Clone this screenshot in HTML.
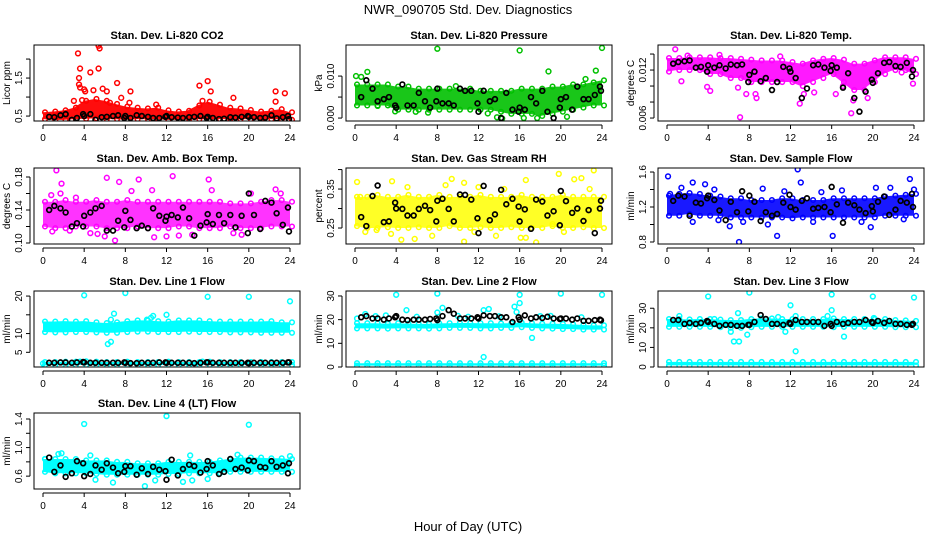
<!DOCTYPE html>
<html><head><meta charset="utf-8"><style>
body{margin:0;background:#fff;}
svg{display:block;font-family:"Liberation Sans",Arial,sans-serif;}
</style></head><body>
<svg id="chart" width="936" height="540" viewBox="0 0 936 540" xmlns="http://www.w3.org/2000/svg">
<rect width="936" height="540" fill="#fff"/>
<text x="468" y="14" font-size="13" text-anchor="middle">NWR_090705  Std. Dev. Diagnostics</text>
<text x="468" y="531" font-size="13" text-anchor="middle">Hour of Day (UTC)</text>
</svg>
<script>
const hours=[0,1,2,3,4,5,6,7,8,9,10,11,12,13,14,15,16,17,18,19,20,21,22,23,24];
const blackX=[0.6,1.1,1.7,2.2,2.8,3.3,3.9,4.0,4.6,5.1,5.7,6.2,6.8,7.3,7.9,8.0,8.5,9.1,9.6,10.2,10.7,11.3,11.9,12.0,12.5,13.1,13.6,14.2,14.7,15.3,15.9,16.0,16.5,17.1,17.6,18.2,18.7,19.3,19.9,20.0,20.5,21.1,21.6,22.2,22.7,23.3,23.8,23.9];

// Panel 1 CO2
const co2Low=[0.42,0.40,0.40,0.42,0.43,0.44,0.42,0.42,0.40,0.42,0.42,0.42,0.40,0.40,0.42,0.42,0.42,0.42,0.42,0.42,0.42,0.40,0.42,0.42,0.40];
const co2High=[0.60,0.62,0.65,0.72,0.90,0.95,0.90,0.82,0.75,0.72,0.70,0.72,0.65,0.62,0.64,0.78,0.88,0.80,0.72,0.70,0.66,0.62,0.64,0.68,0.60];
const co2Black=[0.48,0.47,0.52,0.55,0.40,0.45,0.55,0.50,0.55,0.40,0.47,0.48,0.50,0.52,0.45,0.50,0.45,0.52,0.50,0.48,0.45,0.45,0.48,0.50,0.47,0.46,0.45,0.47,0.48,0.50,0.45,0.48,0.45,0.42,0.43,0.47,0.46,0.48,0.50,0.48,0.47,0.45,0.46,0.52,0.44,0.47,0.50,0.42];
const co2Out=[[3.4,2.15],[3.6,1.75],[3.5,1.5],[3.5,1.33],[3.6,1.25],[5.4,2.35],[5.5,2.28],[5.4,1.75],[4.6,1.65],[7.2,1.37],[5.8,1.22],[6.2,1.15],[4.1,1.15],[4.0,1.2],[8.5,1.15],[7.6,0.98],[3.0,0.9],[3.8,0.92],[15.2,1.3],[16.0,1.42],[16.3,1.15],[18.5,0.98],[22.6,1.15],[22.6,0.88],[23.5,1.1],[4.9,1.18],[11,0.8],[15.5,0.9],[6.5,0.85],[8.4,0.85]];
// Panel 2 Pressure
const prLow=[0.003,0.003,0.003,0.003,0.002,0.002,0.002,0.002,0.002,0.002,0.002,0.002,0.002,0.002,0.0015,0.001,0.001,0.001,0.0005,0.001,0.0015,0.002,0.0025,0.003,0.003];
const prHigh=[0.008,0.008,0.008,0.008,0.0075,0.0075,0.007,0.007,0.007,0.007,0.007,0.007,0.0065,0.0065,0.0065,0.0065,0.007,0.007,0.007,0.0075,0.0075,0.008,0.008,0.0085,0.009];
const prBlack=[0.005,0.009,0.007,0.004,0.0045,0.005,0.003,0.0025,0.008,0.003,0.003,0.006,0.004,0.0025,0.004,0.007,0.0035,0.0035,0.003,0.007,0.0065,0.0065,0.0035,0.0015,0.0065,0.004,0.0045,0,0.006,0.002,0.0015,0.0025,0.002,0.005,0.0035,0.0065,0.0015,0,0.0025,0.0045,0.005,0.002,0.0075,0.0045,0.0045,0.0055,0.0075,0.0065];
const prOut=[[8,0.0165],[16,0.0161],[24,0.0167],[18.8,0.0111],[1.2,0.011],[23.4,0.0113],[0.1,0.010],[0.6,0.0098],[14.3,-0.0001],[16.4,0],[17.7,0],[13.8,0.0002],[7.1,0.0013],[5.9,0.0015],[9.8,0.0076],[20.6,0.0003],[3.9,0.0016],[2.2,0.0029],[22.4,0.0093],[12.9,0.0011]];
// Panel 3 Li-820 temp
const ltLow=[0.0118,0.012,0.012,0.012,0.0115,0.0115,0.011,0.011,0.0105,0.0105,0.0105,0.0105,0.0105,0.010,0.0105,0.011,0.0115,0.0105,0.0095,0.0095,0.0105,0.0115,0.012,0.012,0.0115];
const ltHigh=[0.0135,0.0135,0.0136,0.0136,0.0136,0.0135,0.0135,0.0134,0.0133,0.0132,0.0132,0.0132,0.0130,0.0128,0.0132,0.0134,0.0135,0.0133,0.0128,0.0128,0.0132,0.0136,0.0136,0.0136,0.0134];
const ltBlack=[0.0128,0.0130,0.0131,0.0132,0.0123,0.0124,0.0118,0.0126,0.0123,0.0126,0.0122,0.0127,0.0126,0.0127,0.0105,0.0114,0.0118,0.0106,0.0110,0.0095,0.0105,0.0124,0.0122,0.0118,0.0110,0.0085,0.0097,0.0126,0.0127,0.0123,0.0119,0.0126,0.0123,0.0098,0.0116,0.0085,0.0068,0.0093,0.0108,0.0104,0.0116,0.0129,0.0130,0.0125,0.0124,0.0129,0.0112,0.0120];
const ltOut=[[0.8,0.0146],[7.1,0.0061],[17.9,0.0066],[12.9,0.0078],[1.4,0.0106],[3.9,0.0099],[4.2,0.0094],[7.7,0.0090],[8.6,0.0090],[8.7,0.0085],[13.3,0.0090],[14.3,0.0092],[19.5,0.0085],[23.9,0.0103],[2.0,0.0138],[5.1,0.0139],[11.0,0.0137],[22.8,0.0117],[6.9,0.0098],[16.4,0.0090],[18.1,0.0082],[17.1,0.0100]];
// Panel 4 Amb box temp
const abLow=[0.120,0.118,0.118,0.120,0.120,0.120,0.118,0.118,0.118,0.120,0.118,0.118,0.118,0.120,0.120,0.118,0.118,0.118,0.120,0.118,0.118,0.118,0.120,0.120,0.120];
const abHigh=[0.150,0.150,0.152,0.150,0.150,0.152,0.150,0.150,0.152,0.150,0.150,0.150,0.150,0.150,0.150,0.150,0.150,0.150,0.148,0.148,0.148,0.150,0.152,0.152,0.150];
const abBlack=[0.140,0.145,0.142,0.137,0.120,0.124,0.120,0.133,0.137,0.142,0.145,0.115,0.115,0.127,0.119,0.139,0.128,0.118,0.121,0.118,0.142,0.133,0.127,0.132,0.134,0.131,0.143,0.130,0.109,0.121,0.125,0.135,0.123,0.134,0.124,0.134,0.119,0.133,0.112,0.160,0.134,0.117,0.151,0.149,0.136,0.122,0.143,0.114];
const abOut=[[1.3,0.188],[6.2,0.179],[7.4,0.174],[9.3,0.177],[12.6,0.181],[16.1,0.177],[1.8,0.172],[7.0,0.103],[10.8,0.107],[14.5,0.110],[2.6,0.115],[4.6,0.112],[5.3,0.111],[0.9,0.114],[6.0,0.108],[12.0,0.108],[13.2,0.109],[18.5,0.112],[19.3,0.110],[22.6,0.165],[8.6,0.163],[10.6,0.164],[16.4,0.164],[0.8,0.158],[3.2,0.155],[1.7,0.16],[23.1,0.16],[20.2,0.16]];
// Panel 5 RH
const rhLow=[0.255,0.25,0.25,0.252,0.25,0.25,0.252,0.25,0.25,0.255,0.25,0.25,0.252,0.25,0.25,0.252,0.25,0.25,0.25,0.255,0.25,0.25,0.252,0.25,0.25];
const rhHigh=[0.33,0.33,0.335,0.33,0.33,0.335,0.33,0.33,0.335,0.33,0.33,0.33,0.335,0.33,0.33,0.33,0.335,0.33,0.33,0.33,0.335,0.33,0.33,0.33,0.33];
const rhBlack=[0.278,0.255,0.332,0.359,0.265,0.267,0.315,0.300,0.299,0.282,0.282,0.299,0.307,0.296,0.267,0.320,0.325,0.299,0.267,0.336,0.335,0.323,0.275,0.237,0.358,0.270,0.285,0.348,0.311,0.325,0.305,0.267,0.298,0.248,0.323,0.318,0.282,0.293,0.257,0.345,0.319,0.289,0.300,0.268,0.296,0.237,0.300,0.320];
const rhOut=[[0.2,0.368],[3.6,0.370],[9.4,0.376],[10.6,0.366],[16.6,0.373],[19.8,0.389],[21.3,0.375],[22.0,0.378],[23.2,0.398],[10.6,0.215],[17.6,0.213],[16.1,0.225],[16.6,0.225],[4.5,0.22],[5.8,0.222],[7.5,0.23],[2.1,0.245],[13.7,0.23],[20.3,0.24],[1.0,0.24],[8.8,0.36],[12.0,0.355],[14.5,0.35],[22.8,0.35],[0.5,0.33],[5.1,0.355],[3.5,0.235],[11.6,0.24],[19.2,0.26]];
// Panel 6 Sample flow
const sfLow=[1.10,1.10,1.12,1.10,1.10,1.10,1.08,1.08,1.08,1.08,1.08,1.08,1.07,1.08,1.08,1.08,1.08,1.08,1.08,1.08,1.08,1.10,1.10,1.10,1.10];
const sfHigh=[1.33,1.35,1.36,1.35,1.33,1.32,1.30,1.30,1.28,1.28,1.28,1.30,1.30,1.28,1.28,1.28,1.30,1.30,1.30,1.30,1.30,1.32,1.33,1.34,1.35];
const sfBlack=[1.27,1.33,1.32,1.10,1.25,1.24,1.30,1.33,1.28,1.16,1.05,1.26,1.14,1.38,1.15,1.33,1.26,1.04,1.14,1.10,1.12,1.25,1.34,1.20,1.17,1.27,1.30,1.18,1.19,1.20,1.14,1.43,1.23,1.02,1.25,1.22,1.17,1.13,1.21,1.15,1.26,1.32,1.11,1.17,1.27,1.25,1.35,1.20];
const sfOut=[[0.1,1.55],[12.7,1.63],[13.0,1.48],[2.5,1.48],[3.7,1.46],[23.6,1.52],[7.0,0.8],[10.7,0.87],[16.1,0.87],[6.1,0.98],[19.8,0.97],[9.8,1.0],[1.4,1.42],[9.3,1.41],[20.3,1.42],[21.7,1.42],[17.0,1.39],[11.4,1.38],[4.6,1.4],[15.0,1.37],[2.5,1.03],[5.0,1.05],[7.4,1.03],[14.2,1.03],[18.9,1.03],[23.0,1.06],[0.3,1.35],[24,1.4]];
// Panel 7 Line 1
const l1Low=[10.4,10.3,10.3,10.4,10.4,10.3,10.2,10.2,10.4,10.5,10.5,10.4,10.4,10.4,10.5,10.4,10.4,10.4,10.3,10.3,10.3,10.2,10.2,10.2,10.2];
const l1High=[13.2,13.2,13.3,13.2,13.3,13.0,12.8,13.0,13.3,13.5,13.5,13.3,13.2,13.5,13.5,13.5,13.3,13.2,13.2,13.2,13.2,13.2,13.3,13.0,13.0];
const l1LowB=[1.6,1.6,1.6,1.6,1.6,1.6,1.6,1.6,1.6,1.6,1.6,1.6,1.6,1.6,1.6,1.6,1.6,1.6,1.6,1.6,1.6,1.6,1.6,1.6,1.6];
const l1HighB=[2.4,2.4,2.5,2.5,2.6,2.5,2.4,2.4,2.5,2.4,2.4,2.4,2.5,2.4,2.4,2.4,2.5,2.4,2.4,2.4,2.4,2.4,2.4,2.4,2.4];
const l1Black=[2.2,2.2,2.3,2.3,2.2,2.3,2.4,2.3,2.2,2.2,2.2,2.2,2.2,2.2,2.3,2.2,2.1,2.1,2.2,2.2,2.2,2.3,2.3,2.2,2.2,2.2,2.2,2.2,2.1,2.2,2.3,2.3,2.2,2.2,2.2,2.2,2.2,2.2,2.2,2.1,2.2,2.2,2.2,2.2,2.2,2.2,2.3,2.3];
const l1Out=[[4,20.2],[8,20.8],[16,19.8],[20,19.8],[24,18.6],[6.9,15.3],[12,15.0],[10.7,14.7],[10.5,14.2],[6.6,13.7],[10.1,13.7],[6.3,7.2],[6.6,7.8],[0,2.0],[3.6,2.5],[15.5,2.5]];
// Panel 8 Line 2
const l2Low=[16.3,16.3,16.3,16.2,16.3,16.3,16.3,16.2,16.3,16.5,16.5,16.5,16.3,16.3,16.5,16.5,16.8,16.5,16.3,16.2,16.0,16.0,15.8,15.8,15.8];
const l2High=[18.5,18.5,18.5,18.3,18.5,18.3,18.2,18.2,18.4,18.5,18.6,18.6,18.5,18.5,18.4,18.5,18.8,18.5,18.3,18.3,18.2,18.0,17.8,17.6,17.6];
const l2LowB=[0.6,0.6,0.6,0.6,0.6,0.6,0.6,0.6,0.6,0.6,0.6,0.6,0.6,0.6,0.6,0.6,0.6,0.6,0.6,0.6,0.6,0.6,0.6,0.6,0.6];
const l2HighB=[1.6,1.6,1.6,1.6,1.6,1.6,1.6,1.6,1.6,1.6,1.6,1.6,1.6,1.6,1.6,1.6,1.6,1.6,1.6,1.6,1.6,1.6,1.6,1.6,1.6];
const l2Black=[21,21.5,20.5,20.5,20,20.5,21,21.5,20,19.8,20,20,20,20.3,20.5,19.8,21.5,24,22.5,20.5,20.5,20.5,21,20.5,21.8,21.5,21.5,21,21,19,21,20,21.8,20.5,21,20.7,21.2,20.5,20.3,20.5,20.5,20,20.5,19.5,19.5,19.8,20,19.7];
const l2Out=[[4,30.5],[8,31],[16,30.5],[20,31],[24,30.5],[5,24],[8.5,25],[12.5,24],[12.5,4.2],[16,27],[17.2,12.3],[15.5,25.5],[8,23],[1,22.4],[15.7,23.2],[13,24.5],[2,21.5],[3,21.8],[6,21.2],[10,21.6],[14,21.4],[18,21.5],[22,21.0],[0.2,20.5],[11,21.2],[19,21.6]];
// Panel 9 Line 3
const l3Low=[20.5,20.5,20.5,20.5,20.5,20.3,20.0,20.0,20.3,20.5,20.5,20.5,20.5,20.5,20.5,20.5,20.3,20.5,20.5,20.5,20.5,20.5,20.3,20.3,20.3];
const l3High=[24.5,24.5,24.3,24.5,24.5,24.2,24.0,24.0,24.5,24.8,24.8,24.5,24.5,24.5,24.5,24.5,24.8,24.5,24.5,24.5,24.5,24.5,24.0,23.8,23.5];
const l3LowB=[0.8,0.8,0.8,0.8,0.8,0.8,0.8,0.8,0.8,0.8,0.8,0.8,0.8,0.8,0.8,0.8,0.8,0.8,0.8,0.8,0.8,0.8,0.8,0.8,0.8];
const l3HighB=[2.6,2.6,2.6,2.6,2.6,2.6,2.6,2.6,2.6,2.6,2.6,2.6,2.6,2.6,2.6,2.6,2.6,2.6,2.6,2.6,2.6,2.6,2.6,2.6,2.6];
const l3Black=[24,24,22,22.5,22,22.5,23.5,23,22,21,21.5,21.5,21,21,21.5,21.5,23,26.5,24.5,22,22,21.5,22.5,22,24,23,23,23,23,21,22,21,23,22,22.5,23,23,24,23,22.5,23.5,22.5,23.5,22,22,21.5,21.5,22];
const l3Out=[[4,36],[8,38],[16,37],[20,36],[24,35.5],[12,31.5],[16,29],[6.9,27.5],[1.2,26],[12.5,26],[4.6,24.5],[10.8,25.5],[12.5,8],[17.2,15.5],[7.8,16.5],[6.5,13],[7,13],[6.2,18],[11.5,18],[20.1,25],[15.6,26]];
// Panel 10 Line 4
const l4Low=[0.66,0.64,0.64,0.64,0.64,0.63,0.62,0.62,0.62,0.62,0.62,0.62,0.63,0.63,0.64,0.64,0.64,0.64,0.66,0.66,0.66,0.66,0.66,0.66,0.66];
const l4High=[0.84,0.84,0.84,0.84,0.82,0.82,0.82,0.80,0.80,0.78,0.78,0.78,0.80,0.80,0.80,0.80,0.80,0.82,0.84,0.86,0.86,0.86,0.85,0.85,0.84];
const l4Black=[0.86,0.66,0.75,0.59,0.64,0.81,0.78,0.60,0.63,0.75,0.69,0.78,0.72,0.64,0.66,0.74,0.74,0.62,0.71,0.63,0.73,0.69,0.67,0.55,0.83,0.61,0.70,0.76,0.74,0.65,0.70,0.81,0.75,0.63,0.66,0.84,0.70,0.72,0.68,0.82,0.81,0.73,0.72,0.81,0.73,0.75,0.64,0.78];
const l4Out=[[4,1.33],[12,1.44],[20,1.32],[9.9,0.46],[6.8,0.51],[10.9,0.54],[14.5,0.54],[5.1,0.55],[16.0,0.56],[1.5,0.91],[1.8,0.92],[4.6,0.89],[14.3,0.89],[18.9,0.9],[24,0.88],[13.6,0.52],[0.2,0.84]];

const xTicks=[0,4,8,12,16,20,24];
const NS="http://www.w3.org/2000/svg";
const svg=document.getElementById('chart');
function mk(tag,attrs,parent){const e=document.createElementNS(NS,tag);for(const k in attrs)e.setAttribute(k,attrs[k]);(parent||svg).appendChild(e);return e;}

const panels=[
 {id:'co2',title:'Stan. Dev. Li-820 CO2',ylab:'Licor ppm',col:0,row:0,ymin:0.37,ymax:2.37,ticks:[0.5,1.0,1.5,2.0],labels:['0.5','','1.5',''],color:'#ff0000',bands:[[co2Low,co2High]],black:co2Black,out:co2Out,op:0.95},
 {id:'pressure',title:'Stan. Dev. Li-820 Pressure',ylab:'kPa',col:1,row:0,ymin:-0.0007,ymax:0.0174,ticks:[0,0.005,0.010],labels:['0.000','','0.010'],color:'#00c000',bands:[[prLow,prHigh]],black:prBlack,out:prOut,op:0.9},
 {id:'li820-temp',title:'Stan. Dev. Li-820 Temp.',ylab:'degrees C',col:2,row:0,ymin:0.00563,ymax:0.01513,ticks:[0.006,0.008,0.010,0.012,0.014],labels:['0.006','','','0.012',''],color:'#ff00ff',bands:[[ltLow,ltHigh]],black:ltBlack,out:ltOut,op:0.9},
 {id:'amb-box-temp',title:'Stan. Dev. Amb. Box Temp.',ylab:'degrees C',col:0,row:1,ymin:0.0988,ymax:0.1909,ticks:[0.10,0.12,0.14,0.16,0.18],labels:['0.10','','0.14','','0.18'],color:'#ff00ff',bands:[[abLow,abHigh]],black:abBlack,out:abOut,op:0.8},
 {id:'gas-stream-rh',title:'Stan. Dev. Gas Stream RH',ylab:'percent',col:1,row:1,ymin:0.209,ymax:0.404,ticks:[0.25,0.30,0.35,0.40],labels:['0.25','','0.35',''],color:'#ffff00',bands:[[rhLow,rhHigh]],black:rhBlack,out:rhOut,op:0.85},
 {id:'sample-flow',title:'Stan. Dev. Sample Flow',ylab:'ml/min',col:2,row:1,ymin:0.777,ymax:1.646,ticks:[0.8,1.0,1.2,1.4,1.6],labels:['0.8','','1.2','','1.6'],color:'#0000ff',bands:[[sfLow,sfHigh]],black:sfBlack,out:sfOut,op:0.9},
 {id:'line1-flow',title:'Stan. Dev. Line 1 Flow',ylab:'ml/min',col:0,row:2,ymin:1.08,ymax:21.35,ticks:[5,10,15,20],labels:['5','10','','20'],color:'#00ffff',bands:[[l1Low,l1High],[l1LowB,l1HighB]],black:l1Black,out:l1Out,op:1},
 {id:'line2-flow',title:'Stan. Dev. Line 2 Flow',ylab:'ml/min',col:1,row:2,ymin:0,ymax:32.1,ticks:[0,10,20,30],labels:['0','10','20','30'],color:'#00ffff',bands:[[l2Low,l2High],[l2LowB,l2HighB]],black:l2Black,out:l2Out,op:1},
 {id:'line3-flow',title:'Stan. Dev. Line 3 Flow',ylab:'ml/min',col:2,row:2,ymin:0,ymax:38.8,ticks:[0,10,20,30],labels:['0','10','20','30'],color:'#00ffff',bands:[[l3Low,l3High],[l3LowB,l3HighB]],black:l3Black,out:l3Out,op:1},
 {id:'line4-flow',title:'Stan. Dev. Line 4 (LT) Flow',ylab:'ml/min',col:0,row:3,ymin:0.42,ymax:1.484,ticks:[0.6,0.8,1.0,1.2,1.4],labels:['0.6','','1.0','','1.4'],color:'#00ffff',bands:[[l4Low,l4High]],black:l4Black,out:l4Out,op:1}
];
const colLeft=[34,346,658], rowTop=[45,168,291,413], W=266, H=76;

panels.forEach(p=>{
 const L=colLeft[p.col], T=rowTop[p.row], B=T+H, R=L+W;
 const xs=h=>L+9+h/24*247;
 const ys=v=>B-(v-p.ymin)/(p.ymax-p.ymin)*H;
 const g=mk('g',{});
 
 
 const cid='clip-'+p.id;
 const cp=mk('clipPath',{id:cid},g); mk('rect',{x:L,y:T,width:W,height:H},cp);
 const pg=mk('g',{'clip-path':'url(#'+cid+')'},g);
 p.bands.forEach((bd,bi)=>{
  const lo=bd[0],hi=bd[1];
  let d='M'+hours.map((h,i)=>xs(h)+','+ys(hi[i])).join(' L');
  d+=' L'+hours.slice().reverse().map((h,j)=>{const i=hours.length-1-j;return xs(h)+','+ys(lo[i]);}).join(' L')+' Z';
  const band=mk('path',{d:d,fill:p.color,'fill-opacity':p.op,stroke:'none'},pg);
  
  
  hours.forEach((h,i)=>{
   [lo[i],hi[i]].forEach(v=>{
    const c=mk('circle',{cx:xs(h)+2,cy:ys(v),r:2.3,fill:'none',stroke:p.color,'stroke-width':1.5},pg);
    
    
   });
  });
 });
 p.out.forEach(pt=>{
  const c=mk('circle',{cx:xs(pt[0]),cy:ys(pt[1]),r:2.4,fill:'none',stroke:p.color,'stroke-width':1.5},pg);
  
  
 });
 blackX.forEach((h,i)=>{
  const c=mk('circle',{cx:xs(h),cy:ys(p.black[i]),r:2.4,fill:'none',stroke:'#000','stroke-width':1.7},pg);
  
  
 });
 const box=mk('rect',{x:L,y:T,width:W,height:H,fill:'none',stroke:'#000','stroke-width':1},g);
 
 
 const t=mk('text',{x:L+W/2,y:T-6,'font-size':11,'font-weight':'bold','text-anchor':'middle'},g);
 t.textContent=p.title;
 
 
 mk('line',{x1:xs(0),x2:xs(24),y1:B+4,y2:B+4,stroke:'#000'},g);
 xTicks.forEach(h=>{
  mk('line',{x1:xs(h),x2:xs(h),y1:B+4,y2:B+8,stroke:'#000'},g);
  const tl=mk('text',{x:xs(h),y:B+20,'font-size':10,'text-anchor':'middle'},g);
  tl.textContent=h;
  
  
 });
 const vt=p.ticks.filter(v=>v>=p.ymin&&v<=p.ymax);
 mk('line',{x1:L-4,x2:L-4,y1:ys(vt[0]),y2:ys(vt[vt.length-1]),stroke:'#000'},g);
 p.ticks.forEach((v,i)=>{
  if(v<p.ymin||v>p.ymax)return;
  mk('line',{x1:L-8,x2:L-4,y1:ys(v),y2:ys(v),stroke:'#000'},g);
  if(p.labels[i]){
   const tl=mk('text',{x:0,y:0,'font-size':10,'text-anchor':'middle',transform:'translate('+(L-12)+','+ys(v)+') rotate(-90)'},g);
   tl.textContent=p.labels[i];
   
   
  }
 });
 const yl=mk('text',{x:0,y:0,'font-size':10,'text-anchor':'middle',transform:'translate('+(L-24)+','+(T+H/2)+') rotate(-90)'},g);
 yl.textContent=p.ylab;
 
 
});
</script>
</body></html>
